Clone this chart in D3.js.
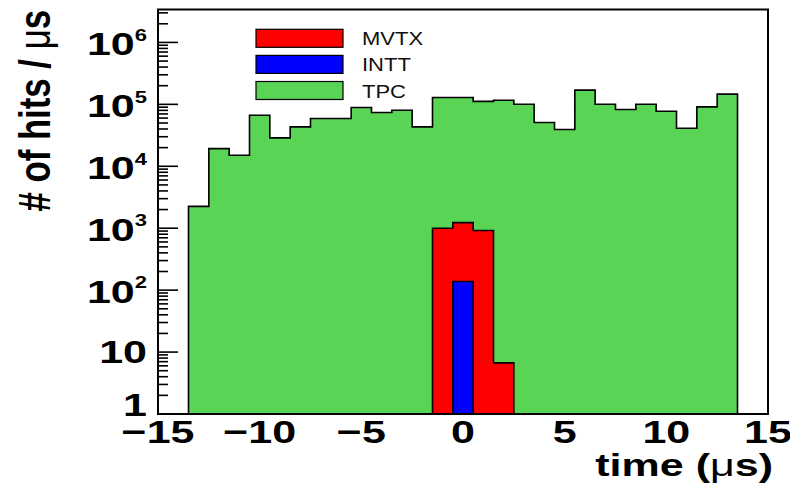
<!DOCTYPE html>
<html>
<head>
<meta charset="utf-8">
<script src="https://cdn.jsdelivr.net/npm/d3@7"></script>
<style>
  html, body { margin: 0; padding: 0; background: #fff; }
  svg { display: block; }
  text { font-family: "Liberation Sans", Arial, Helvetica, sans-serif; }
</style>
</head>
<body>
<svg id="chart" width="790" height="483"></svg>
<script>
// Hit-time distributions per detector, 1 µs bins (bin centres in µs)
const tpcBins  = [-13, -12, -11, -10, -9, -8, -7, -6, -5, -4, -3, -2, -1, 0,
                  1, 2, 3, 4, 5, 6, 7, 8, 9, 10, 11, 12, 13];
const tpcHits  = [2250, 19300, 15100, 66800, 28700, 43200, 59000, 59000, 88900,
                  73800, 80400, 43200, 129000, 129000, 111600, 116700, 100500,
                  50900, 39200, 169400, 100500, 82600, 100500, 77400, 41100,
                  90900, 146000];
const mvtxBins = [-1, 0, 1, 2];
const mvtxHits = [1000, 1230, 920, 6.7];
const inttBins = [0];
const inttHits = [138];

const seriesNames  = ["MVTX", "INTT", "TPC"];
const seriesColors = {MVTX: "#ff0000", INTT: "#0000ff", TPC: "#59d454"};

const xTickValues = [-15, -10, -5, 0, 5, 10, 15];
const xTickLabels = ["\u221215", "\u221210", "\u22125", "0", "5", "10", "15"];
const yTickValues = [1, 10, 1e2, 1e3, 1e4, 1e5, 1e6];
const yTickBase   = ["1", "10", "10", "10", "10", "10", "10"];
const yTickExp    = ["", "", "2", "3", "4", "5", "6"];

const xTitle = "time (";
const yTitle = "# of hits / ";

const svg = d3.select("#chart");
const frameL = 158, frameR = 768, frameT = 9.5, frameB = 414;
const binWidth = 1;

const x = d3.scaleLinear().domain([-15, 15]).range([frameL, frameR]);
const y = d3.scaleLog().domain([1, 3.4e6]).range([frameB, frameT]);

// Step outline of a histogram, closed on the baseline
function stepPoints(centers, values) {
  const pts = [[centers[0] - binWidth / 2, 1]];
  centers.forEach((c, i) => {
    pts.push([c - binWidth / 2, values[i]]);
    pts.push([c + binWidth / 2, values[i]]);
  });
  pts.push([centers[centers.length - 1] + binWidth / 2, 1]);
  return pts;
}
const stepLine = d3.line().x(d => x(d[0])).y(d => y(d[1]));

const hists = [
  {name: "TPC", bins: tpcBins, hits: tpcHits},
  {name: "MVTX", bins: mvtxBins, hits: mvtxHits},
  {name: "INTT", bins: inttBins, hits: inttHits}
];
svg.append("g").selectAll("path").data(hists).join("path")
  .attr("d", d => stepLine(stepPoints(d.bins, d.hits)) + "Z")
  .attr("fill", d => seriesColors[d.name])
  .attr("stroke", "#000")
  .attr("stroke-width", 1.6)
  .attr("stroke-linejoin", "miter");

// Frame
svg.append("rect")
  .attr("x", frameL).attr("y", frameT)
  .attr("width", frameR - frameL).attr("height", frameB - frameT)
  .attr("fill", "none").attr("stroke", "#000").attr("stroke-width", 2);

// Log-axis ticks on the left edge, pointing inward
const yTicksAll = y.ticks().filter(v => v >= 1 && v <= 3.4e6);
svg.append("g").selectAll("line").data(yTicksAll).join("line")
  .attr("x1", frameL)
  .attr("x2", d => frameL + (Math.abs(Math.log10(d) - Math.round(Math.log10(d))) < 1e-9 ? 20 : 10))
  .attr("y1", d => y(d)).attr("y2", d => y(d))
  .attr("stroke", "#000").attr("stroke-width", 1.6);

const squash = 0.75;

// Y tick labels (powers of ten)
const yLab = svg.append("g");
yTickValues.forEach((v, i) => {
  const off = yTickExp[i] ? 12.5 : (v === 1 ? 2 : 11);
  const g = yLab.append("g")
    .attr("transform", `translate(147,${y(v) + off}) scale(1,${squash})`);
  const t = g.append("text")
    .attr("text-anchor", "end")
    .attr("font-size", 43).attr("font-weight", "bold")
    .text(yTickBase[i]);
  if (yTickExp[i]) {
    t.append("tspan").attr("font-size", 22).attr("dy", -19).text(yTickExp[i]);
  }
});

// X tick labels
svg.append("g").selectAll("g").data(xTickValues).join("g")
  .attr("transform", d => `translate(${x(d)},443) scale(1,${squash})`)
  .append("text")
  .attr("text-anchor", "middle")
  .attr("font-size", 43).attr("font-weight", "bold")
  .text((d, i) => xTickLabels[i]);

// Axis titles
const xt = svg.append("g")
  .attr("transform", `translate(773,476) scale(1,${squash})`)
  .append("text")
  .attr("text-anchor", "end")
  .attr("font-size", 43).attr("font-weight", "bold");
xt.append("tspan").text(xTitle);
xt.append("tspan").attr("font-weight", "normal").text("\u03bc");
xt.append("tspan").text("s)");

const yt = svg.append("g")
  .attr("transform", "translate(50,10) rotate(-90) scale(0.79,1)")
  .append("text")
  .attr("text-anchor", "end")
  .attr("font-size", 44).attr("font-weight", "bold");
yt.append("tspan").text(yTitle);
yt.append("tspan").attr("font-weight", "normal").text("\u03bc");
yt.append("tspan").text("s");

// Legend
const legend = svg.append("g");
seriesNames.forEach((name, i) => {
  const cy = 38.3 + i * 26.1;
  legend.append("rect")
    .attr("x", 256).attr("y", cy - 9)
    .attr("width", 87).attr("height", 18)
    .attr("fill", seriesColors[name])
    .attr("stroke", "#000").attr("stroke-width", 1.2);
  legend.append("g")
    .attr("transform", `translate(362,${cy + 7}) scale(1,0.85)`)
    .append("text")
    .attr("font-size", 22)
    .attr("fill", "#111")
    .text(name);
});
</script>
</body>
</html>
